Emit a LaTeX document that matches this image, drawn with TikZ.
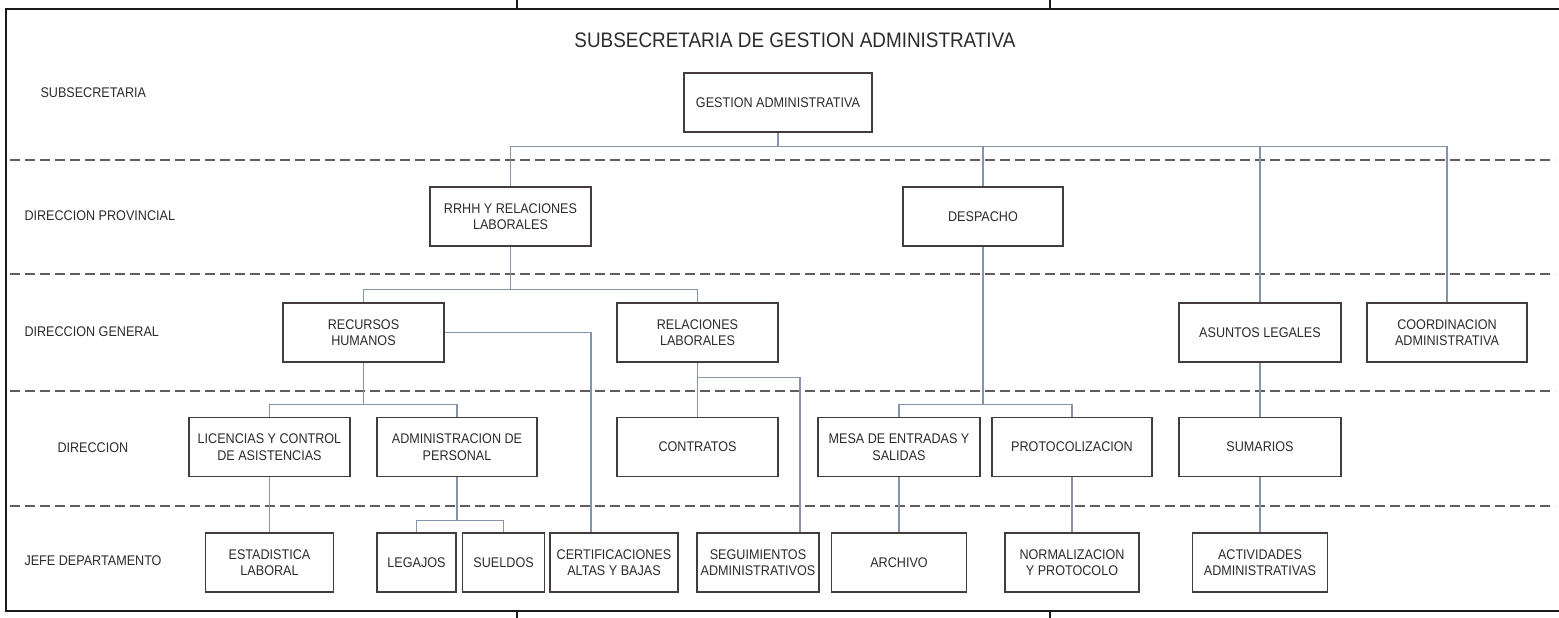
\documentclass[tikz,border=0pt]{standalone}
\usepackage{fontspec}
\setmainfont{Liberation Sans}[FakeStretch=0.9]
\usepackage{tikz}
\usetikzlibrary{positioning,calc}
\definecolor{ogInk}{HTML}{2B2B2B}
\definecolor{ogBox}{HTML}{443C3C}
\definecolor{ogLink}{HTML}{8594AA}
\definecolor{ogDash}{HTML}{5E5E5E}
\definecolor{ogFrame}{HTML}{1A1A1A}
\tikzset{
  % Unit box
  ubox/.style={rectangle,draw=ogBox,line width=1.6pt,fill=white,
    minimum width=161pt,minimum height=59pt,inner sep=2pt,
    align=center,font=\fontsize{14}{16.5}\selectfont,text=ogInk},
  % Level name on the left
  lvl/.style={anchor=west,font=\fontsize{14}{16.5}\selectfont,text=ogInk},
  % Line between units
  conn/.style={draw=ogLink,line width=1.1pt},
  % Dashed separator between levels
  sep/.style={draw=ogDash,line width=1.8pt,dash pattern=on 10pt off 5pt},
  % Outer frame
  frm/.style={draw=ogFrame,line width=2.4pt},
}
\begin{document}
\begin{tikzpicture}[x=1pt,y=-1pt]
  \useasboundingbox (0,0) rectangle (1559,618);
  \draw[frm] (1565,9) -| (6,611) -- (1565,611);
  \foreach \xx in {517,1050} {
    \draw[frm] (\xx,0) -- (\xx,9);
    \draw[frm] (\xx,611) -- (\xx,618);
  }
  \foreach \yy in {160,274,391,506}
    \draw[sep] (10,\yy) -- (1555,\yy);

  \node[font=\fontsize{21}{24}\selectfont,text=ogInk] (ttl) at (795,40)
    {SUBSECRETARIA DE GESTION ADMINISTRATIVA};

  % levels
  \node[lvl] (lsub) at (37,93) {SUBSECRETARIA};
  \node[lvl] (lprov) at (21,216) {DIRECCION PROVINCIAL};
  \node[lvl] (lgen) at (21,332) {DIRECCION GENERAL};
  \node[lvl] (ldir) at (54,448) {DIRECCION};
  \node[lvl] (ljefe) at (21,561) {JEFE DEPARTAMENTO};

  % units
  \node[ubox,minimum width=188pt] (gest) at (778,102.5) {GESTION ADMINISTRATIVA};
  \node[ubox] (rrhh) at (510.5,216.5) {RRHH Y RELACIONES\\LABORALES};
  \node[ubox,minimum width=160pt] (desp) at (983,216.5) {DESPACHO};
  \node[ubox] (recu) at (363.5,332.5) {RECURSOS\\HUMANOS};
  \node[ubox] (rela) at (697.5,332.5) {RELACIONES\\LABORALES};
  \node[ubox,minimum width=162pt] (asun) at (1260,332.5) {ASUNTOS LEGALES};
  \node[ubox,minimum width=160pt] (coor) at (1447,332.5) {COORDINACION\\ADMINISTRATIVA};
  \node[ubox] (lice) at (269.5,447) {LICENCIAS Y CONTROL\\DE ASISTENCIAS};
  \node[ubox,minimum width=160pt] (admi) at (457,447) {ADMINISTRACION DE\\PERSONAL};
  \node[ubox] (cont) at (697.5,447) {CONTRATOS};
  \node[ubox,minimum width=162pt] (mesa) at (899,447) {MESA DE ENTRADAS Y\\SALIDAS};
  \node[ubox,minimum width=160pt] (prot) at (1072,447) {PROTOCOLIZACION};
  \node[ubox,minimum width=162pt] (suma) at (1260,447) {SUMARIOS};
  \node[ubox,minimum width=128pt] (esta) at (269.5,562.5) {ESTADISTICA\\LABORAL};
  \node[ubox,minimum width=79pt] (lega) at (416.5,562.5) {LEGAJOS};
  \node[ubox,minimum width=82pt,right=5pt of lega] (suel) {SUELDOS};
  \node[ubox,minimum width=128pt] (cert) at (614,562.5) {CERTIFICACIONES\\ALTAS Y BAJAS};
  \node[ubox,minimum width=122pt] (segu) at (758,562.5) {SEGUIMIENTOS\\ADMINISTRATIVOS};
  \node[ubox,minimum width=135pt] (arch) at (899,562.5) {ARCHIVO};
  \node[ubox,minimum width=134pt] (norm) at (1072,562.5) {NORMALIZACION\\Y PROTOCOLO};
  \node[ubox,minimum width=135pt] (acti) at (1260,562.5) {ACTIVIDADES\\ADMINISTRATIVAS};

  % links between units
  \draw[conn] (gest.south) -- ++(0,14) coordinate (b0);
  \draw[conn] (rrhh.north) |- (coor.north |- b0) -- (coor.north);
  \draw[conn] (desp.north) -- (desp.north |- b0);
  \draw[conn] (asun.north) -- (asun.north |- b0);
  \draw[conn] (rrhh.south) -- ++(0,43) coordinate (b1);
  \draw[conn] (recu.north) |- (rela.north |- b1) -- (rela.north);
  \draw[conn] (recu.east) -| ($(cert.north)+(-23,0)$);
  \draw[conn] (recu.south) -- ++(0,42) coordinate (b2);
  \draw[conn] (lice.north) |- (admi.north |- b2) -- (admi.north);
  \draw[conn] (rela.south) -- (cont.north);
  \draw[conn] (rela.south) ++(0,15) -| ($(segu.north)+(42,0)$);
  \draw[conn] (desp.south) -- ++(0,158) coordinate (b3);
  \draw[conn] (mesa.north) |- (prot.north |- b3) -- (prot.north);
  \draw[conn] (asun.south) -- (suma.north);
  \draw[conn] (lice.south) -- (esta.north);
  \draw[conn] (admi.south) -- ++(0,43) coordinate (b4);
  \draw[conn] (lega.north) |- (suel.north |- b4) -- (suel.north);
  \draw[conn] (mesa.south) -- (arch.north);
  \draw[conn] (prot.south) -- (norm.north);
  \draw[conn] (suma.south) -- (acti.north);
\end{tikzpicture}
\end{document}
